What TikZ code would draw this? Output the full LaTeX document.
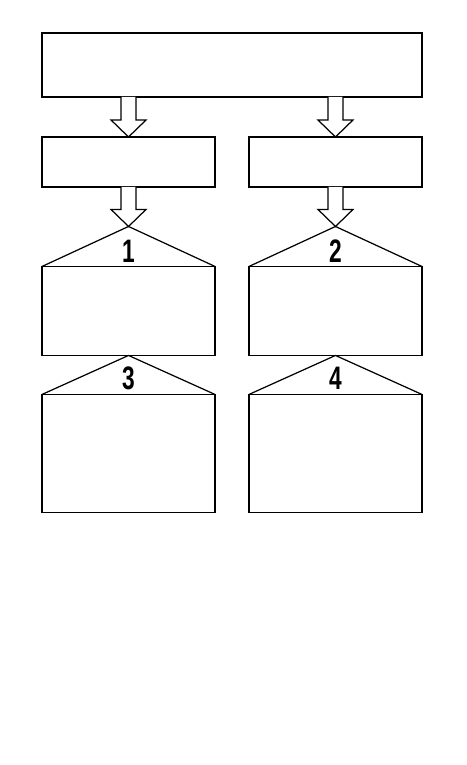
\documentclass[tikz,border=0pt]{standalone}
\usepackage{fontspec}
\setmainfont{Liberation Sans}
\usetikzlibrary{calc,positioning}
\tikzset{
  box/.style={draw,line width=0.7pt,inner sep=0pt,outer sep=0pt},
  topbox/.style={box,minimum width=7.6cm,minimum height=1.28cm},
  midbox/.style={box,minimum width=3.46cm,minimum height=1cm},
  housebox/.style={box,minimum width=3.46cm,minimum height=1.78cm},
  lowbox/.style={box,minimum width=3.46cm,minimum height=2.36cm},
  roof/.style={line width=0.7pt,line join=miter},
  hollow/.style={line width=0.7pt,fill=white,line join=miter},
  num/.style={inner sep=0pt,font=\fontsize{18.5}{18.5}\selectfont\bfseries}
}
% narrow digits
\newcommand\sqz[1]{\scalebox{0.7}[1]{#1}}
% hollow block arrow: shaft starts at the bottom of node #1, tip at #2
\newcommand\hollowarrow[2]{%
  \path (#2) coordinate (tip) (#1.south -| tip) coordinate (tail);
  \draw[hollow] ($(tail)+(-7.5,0)$) -- ($(tip)+(-7.5,-17)$) -- ($(tip)+(-17.5,-17)$)
    -- (tip) -- ($(tip)+(17.5,-17)$) -- ($(tip)+(7.5,-17)$) -- ($(tail)+(7.5,0)$);
}

\begin{document}
\begin{tikzpicture}[x=0.02cm,y=-0.02cm]
\useasboundingbox (0,0) rectangle (467,765);

\node[topbox] (top) at (232,65) {};
\node[midbox, below right=0.8cm and 0cm of top.south west] (mid1) {};
\node[midbox, below left=0.8cm and 0cm of top.south east] (mid2) {};

\node[housebox, below=1.59cm of mid1] (box1) {};
\node[housebox, below=1.59cm of mid2] (box2) {};
\node[lowbox, below=0.78cm of box1] (box3) {};
\node[lowbox, below=0.78cm of box2] (box4) {};

% roofs
\coordinate (apex1) at ($(box1.north)+(0,-40)$);
\coordinate (apex2) at ($(box2.north)+(0,-40)$);
\coordinate (apex3) at (box1.south);
\coordinate (apex4) at (box2.south);
\draw[roof] (box1.north west) -- (apex1) -- (box1.north east);
\draw[roof] (box2.north west) -- (apex2) -- (box2.north east);
\draw[roof] (box3.north west) -- (apex3) -- (box3.north east);
\draw[roof] (box4.north west) -- (apex4) -- (box4.north east);

\node[num, below=2.6mm of apex1] (n1) {\sqz{1}};
\node[num, below=2.6mm of apex2] (n2) {\sqz{2}};
\node[num, below=2.2mm of apex3] (n3) {\sqz{3}};
\node[num, below=2.2mm of apex4] (n4) {\sqz{4}};

% arrows
\hollowarrow{top}{mid1.north}
\hollowarrow{top}{mid2.north}
\hollowarrow{mid1}{apex1}
\hollowarrow{mid2}{apex2}
\end{tikzpicture}
\end{document}
